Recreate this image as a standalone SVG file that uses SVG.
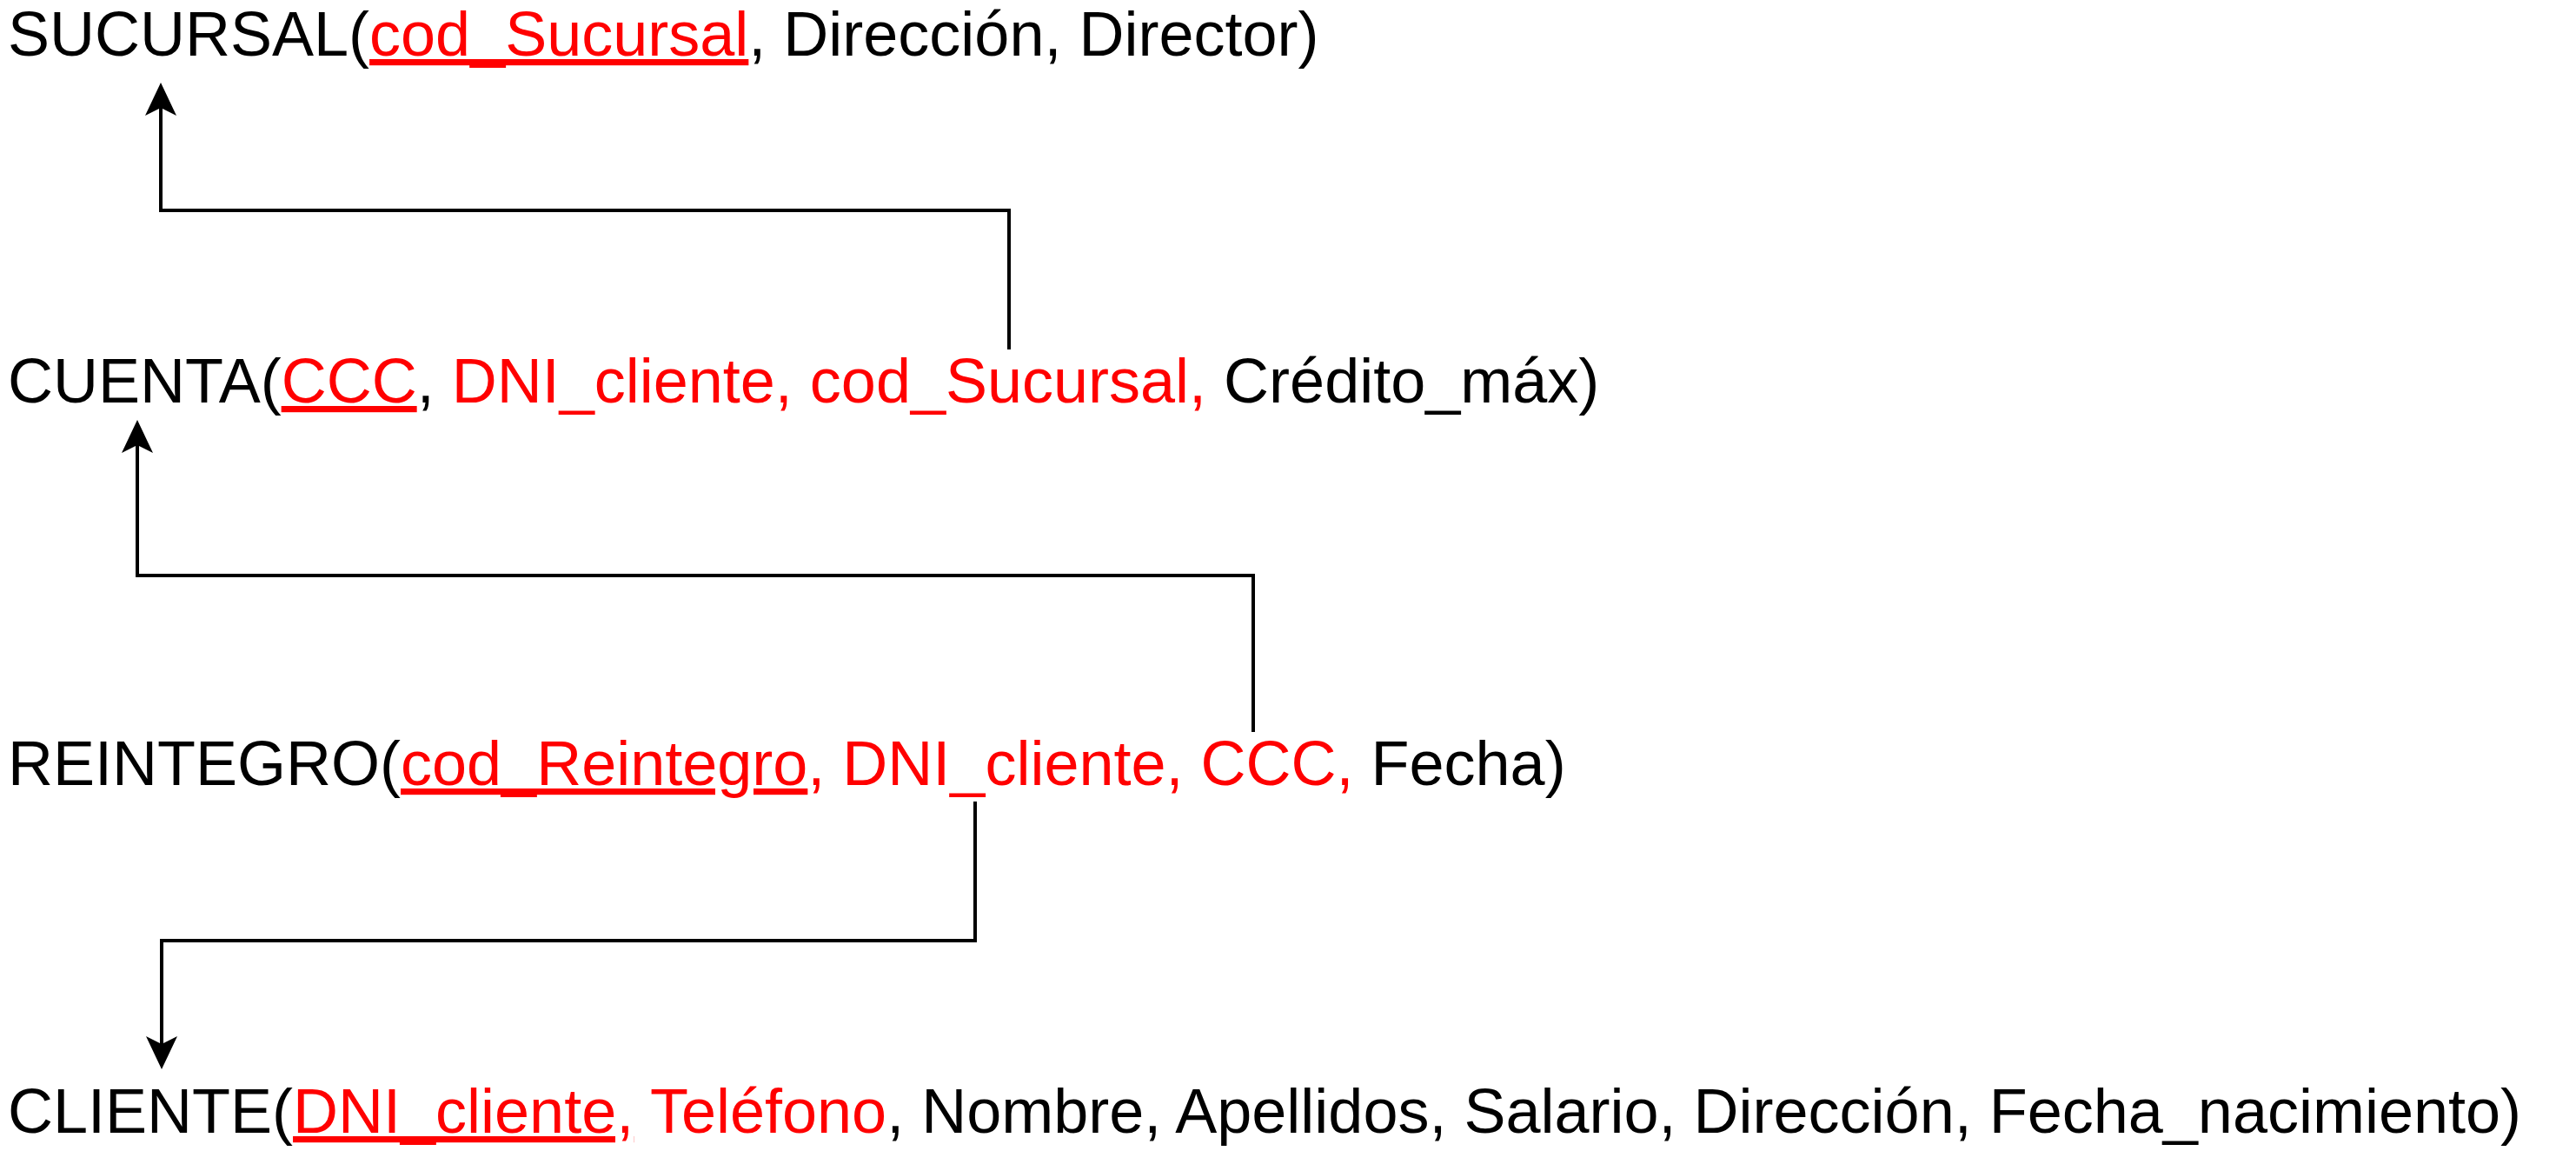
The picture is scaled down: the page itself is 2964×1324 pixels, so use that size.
<svg xmlns="http://www.w3.org/2000/svg" width="2964" height="1324" viewBox="0 0 2964 1324">
<style>
text { font-family: "Liberation Sans", Arial, sans-serif; font-size: 72px; fill: #000000; }
.k { fill: #ff0000; }
.u { text-decoration: underline; }
.conn { fill: none; stroke: #000000; stroke-width: 4; stroke-linejoin: miter; }
</style>
<defs>
<marker id="arrow" markerUnits="userSpaceOnUse" viewBox="-10 -20 42 40" refX="0" refY="0" markerWidth="42" markerHeight="40" orient="auto">
<path d="M29,0 L-9,-18 L0,0 L-9,18 Z" fill="#000000"/>
</marker>
</defs>
<rect width="2964" height="1324" fill="#ffffff"/>
<g id="connectors">
<path class="conn" d="M1161,402 L1161,242 L185,242 L185,124" marker-end="url(#arrow)"/>
<path class="conn" d="M1442,842 L1442,662 L158,662 L158,512" marker-end="url(#arrow)"/>
<path class="conn" d="M1122,922 L1122,1082 L186,1082 L186,1201" marker-end="url(#arrow)"/>
</g>
<g id="sucursal">
<text x="9" y="64">SUCURSAL(<tspan class="k u">cod_Sucursal</tspan>, Dirección, Director)</text>
</g>
<g id="cuenta">
<text x="9" y="463">CUENTA(<tspan class="k u">CCC</tspan>, <tspan class="k">DNI_cliente, cod_Sucursal,</tspan> Crédito_máx)</text>
</g>
<g id="reintegro">
<text x="9" y="903">REINTEGRO(<tspan class="k u">cod_Reintegro</tspan><tspan class="k">, DNI_cliente, CCC,</tspan> Fecha)</text>
</g>
<g id="cliente">
<text x="9" y="1303">CLIENTE(<tspan class="k u">DNI_cliente,</tspan><tspan class="k"> Teléfono</tspan>, Nombre, Apellidos, Salario, Dirección, Fecha_nacimiento)</text>
</g>
</svg>
